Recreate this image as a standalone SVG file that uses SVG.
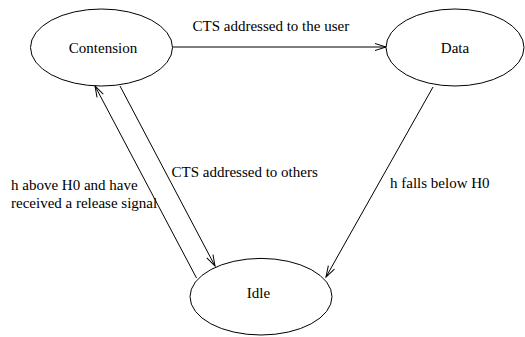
<svg xmlns="http://www.w3.org/2000/svg" width="525" height="337" viewBox="0 0 525 337">
<style>
.node ellipse{fill:#fff;stroke:#000;stroke-width:1}
text{font-family:"Liberation Serif","Times New Roman",serif;font-size:15px;fill:#000}
.c{text-anchor:middle}
.edge{fill:none;stroke:#000;stroke-width:1;marker-end:url(#arr)}
</style>
<defs>
<marker id="arr" markerUnits="userSpaceOnUse" markerWidth="14" markerHeight="10" refX="11" refY="4" orient="auto" overflow="visible">
<path d="M0,0.5 L11,4 L0,7.5" fill="none" stroke="#000" stroke-width="1"/>
</marker>
</defs>
<rect width="525" height="337" fill="#fff"/>
<g id="connectors">
<line class="edge" x1="172.5" y1="47" x2="386" y2="47"/>
<line class="edge" x1="120" y1="86" x2="215" y2="266"/>
<line class="edge" x1="196.5" y1="278" x2="95" y2="86"/>
<line class="edge" x1="433" y1="87" x2="326" y2="277"/>
</g>
<g id="labels">
<text x="192.5" y="31">CTS addressed to the user</text>
<text x="171.5" y="176.5">CTS addressed to others</text>
<text x="11" y="190">h above H0 and have</text>
<text x="11" y="207.5">received a release signal</text>
<text x="390" y="187.5">h falls below H0</text>
</g>
<g id="contention" class="node">
<ellipse cx="101.5" cy="47.5" rx="71" ry="38.5"/>
<text class="c" x="103" y="53.3">Contension</text>
</g>
<g id="data" class="node">
<ellipse cx="455" cy="47.5" rx="69" ry="38.5"/>
<text class="c" x="455" y="53.3">Data</text>
</g>
<g id="idle" class="node">
<ellipse cx="261" cy="296.7" rx="71" ry="38.3"/>
<text class="c" x="258.5" y="297.7">Idle</text>
</g>
</svg>
